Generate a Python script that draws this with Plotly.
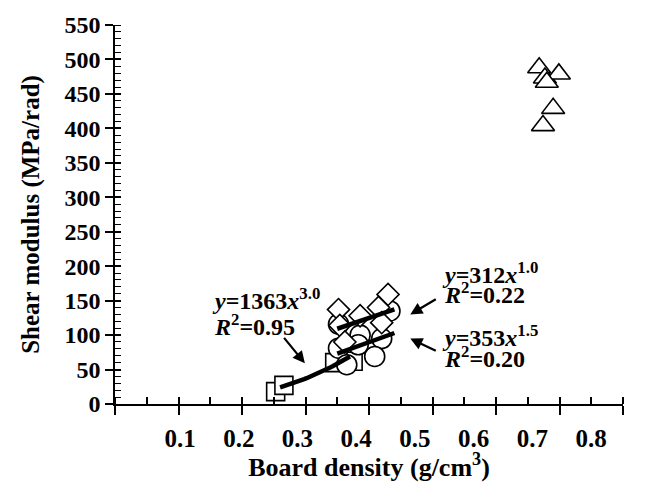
import plotly.graph_objects as go

# Board density (g/cm3) and shear modulus (MPa/rad) for each board group
sq_x = [0.253, 0.266, 0.346, 0.375]
sq_y = [18, 27, 60, 62]

circ_x = [0.433, 0.352, 0.386, 0.420, 0.352, 0.365, 0.409, 0.383]
circ_y = [135, 116, 100, 95, 81, 57, 69, 86]

dia_x = [0.430, 0.352, 0.386, 0.415, 0.354, 0.362, 0.420]
dia_y = [159, 137, 128, 140, 114, 90, 118]

tri_x = [0.668, 0.677, 0.699, 0.680, 0.690, 0.674]
tri_y = [488, 473, 479, 467, 429, 404]

# Power-law fits y = a * x^b and the density span each one covers
fit_sq = dict(a=1363, b=3.0, x0=0.26, x1=0.37)
fit_dia = dict(a=312, b=1.0, x0=0.35, x1=0.44)
fit_circ = dict(a=353, b=1.5, x0=0.35, x1=0.44)

x_labels = ["0.1", "0.2", "0.3", "0.4", "0.5", "0.6", "0.7", "0.8"]

FONT = "Liberation Serif"


def bold(size):
    return dict(family=FONT, size=size, color="black", weight="bold")


def fit_curve(f, n=30):
    xs = [f["x0"] + (f["x1"] - f["x0"]) * i / (n - 1) for i in range(n)]
    return xs, [f["a"] * x ** f["b"] for x in xs]


fig = go.Figure()


def open_marker(symbol, size):
    return dict(symbol=symbol, size=size, color="white",
                line=dict(color="black", width=1.6))


fig.add_trace(go.Scatter(x=sq_x, y=sq_y, mode="markers",
                         marker=open_marker("square", 18)))
fig.add_trace(go.Scatter(x=circ_x, y=circ_y, mode="markers",
                         marker=open_marker("circle", 20)))
fig.add_trace(go.Scatter(x=dia_x, y=dia_y, mode="markers",
                         marker=open_marker("diamond", 17)))
fig.add_trace(go.Scatter(x=tri_x, y=tri_y, mode="markers",
                         marker=open_marker("triangle-up", 20)))

for f in (fit_sq, fit_dia, fit_circ):
    fx, fy = fit_curve(f)
    fig.add_trace(go.Scatter(x=fx, y=fy, mode="lines",
                             line=dict(color="black", width=4.5)))

# Empty traces so the helper axes (labels, inner ticks) get drawn
for xa, ya in (("x2", "y"), ("x3", "y"), ("x", "y2")):
    fig.add_trace(go.Scatter(x=[], y=[], xaxis=xa, yaxis=ya,
                             hoverinfo="skip"))

# Equation labels
notes = [
    ("<i>y</i>=1363<i>x</i><sup>3.0</sup>", 0.150, 152),
    ("<i>R</i><sup>2</sup>=0.95", 0.153, 114),
    ("<i>y</i>=312<i>x</i><sup>1.0</sup>", 0.512, 190),
    ("<i>R</i><sup>2</sup>=0.22", 0.515, 161),
    ("<i>y</i>=353<i>x</i><sup>1.5</sup>", 0.512, 99),
    ("<i>R</i><sup>2</sup>=0.20", 0.515, 68),
]
for text, ax_, ay_ in notes:
    fig.add_annotation(x=ax_, y=ay_, text=text, showarrow=False,
                       xanchor="left", yanchor="middle", font=bold(24))

# Arrows pointing at the fitted curves
arrows = [(0.299, 59, -22, -27), (0.465, 130, 27, -16), (0.465, 95, 27, 13)]
for hx, hy, dx, dy in arrows:
    fig.add_annotation(x=hx, y=hy, ax=dx, ay=dy, text="", showarrow=True,
                       arrowhead=2, arrowsize=1.1, arrowwidth=2.2,
                       arrowcolor="black")

fig.update_layout(
    width=653, height=495,
    margin=dict(l=115, r=30, t=15, b=91),
    paper_bgcolor="white", plot_bgcolor="white",
    showlegend=False,
    xaxis=dict(range=[0, 0.8], showgrid=False, zeroline=False,
               showline=True, linecolor="black", linewidth=1.5,
               ticks="outside", tickvals=[i / 10 for i in range(9)],
               ticklen=9, tickwidth=1.5, tickcolor="black",
               minor=dict(ticks="inside", tickvals=[i / 20 for i in range(17)],
                          ticklen=7, tickwidth=1.5, tickcolor="black"),
               showticklabels=False,
               title=dict(text="Board density (g/cm<sup>3</sup>)",
                          font=bold(26), standoff=44)),
    xaxis3=dict(range=[0, 0.8], overlaying="x", anchor="y",
                showgrid=False, zeroline=False, showline=False,
                ticks="inside", tickvals=[i / 10 for i in range(9)],
                ticklen=7, tickwidth=1.5, tickcolor="black",
                showticklabels=False),
    xaxis2=dict(range=[-0.0108, 0.8545], overlaying="x", anchor="y",
                showgrid=False, zeroline=False, showline=False,
                ticks="outside", ticklen=12, tickcolor="rgba(0,0,0,0)",
                tickvals=[float(t) for t in x_labels], ticktext=x_labels,
                tickfont=bold(25)),
    yaxis=dict(range=[0, 550], showgrid=False, zeroline=False,
               showline=True, linecolor="black", linewidth=1.5,
               ticks="outside", tickvals=[i * 50 for i in range(12)],
               ticklen=8, tickwidth=1.5,
               tickcolor="black", tickfont=bold(24),
               minor=dict(ticks="inside", tickvals=list(range(0, 551, 10)),
                          ticklen=6, tickwidth=1.2, tickcolor="black"),
               title=dict(text="Shear modulus (MPa/rad)", font=bold(25),
                          standoff=18)),
    yaxis2=dict(range=[0, 550], overlaying="y", anchor="x",
                showgrid=False, zeroline=False, showline=False,
                ticks="inside", tickvals=[i * 50 for i in range(12)],
                ticklen=6, tickwidth=1.5,
                tickcolor="black", showticklabels=False),
)

fig.write_html("out.html")
